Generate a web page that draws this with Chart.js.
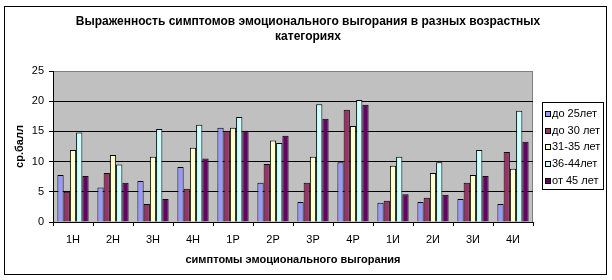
<!DOCTYPE html>
<html lang="ru">
<head>
<meta charset="utf-8">
<title>Выраженность симптомов</title>
<script src="https://cdn.jsdelivr.net/npm/chart.js@4.4.1/dist/chart.umd.min.js"></script>
<style>
    html, body { margin: 0; padding: 0; background: #fff; }
    canvas { display: block; }
</style>
</head>
<body>
<canvas id="graficoBar" width="612" height="280"></canvas>
<script>
// dados do grafico
const categorias = ['1Н', '2Н', '3Н', '4Н', '1Р', '2Р', '3Р', '4Р', '1И', '2И', '3И', '4И'];
const grupos = ['до 25лет', 'до 30 лет', '31-35 лет', '36-44лет', 'от 45 лет'];
const ate25 = [7.8, 5.7, 6.8, 9.1, 15.6, 6.5, 3.3, 9.9, 3.2, 3.3, 3.8, 3.0];
const ate30 = [5.0, 8.1, 3.0, 5.5, 15.1, 9.6, 6.5, 18.6, 3.5, 4.0, 6.5, 11.6];
const de31a35 = [11.9, 11.1, 10.8, 12.3, 15.6, 13.5, 10.8, 15.9, 9.3, 8.1, 7.8, 8.8];
const de36a44 = [14.8, 9.5, 15.4, 16.1, 17.4, 13.1, 19.5, 20.2, 10.8, 9.9, 11.9, 18.4];
const acima45 = [7.6, 6.5, 3.8, 10.5, 15.1, 14.3, 17.1, 19.4, 4.6, 4.5, 7.6, 13.3];
const ticksY = [0, 5, 10, 15, 20, 25];

const cores = ['#9999FF', '#993366', '#FFFFCC', '#CCFFFF', '#660066'];
const series = [ate25, ate30, de31a35, de36a44, acima45];

Chart.defaults.font.family = '"Liberation Sans", Arial, sans-serif';
Chart.defaults.color = '#000';

// fundo cinza da area do grafico + moldura externa
const fundoPlugin = {
    id: 'fundo',
    beforeDraw(chart) {
        const ctx = chart.ctx;
        const a = chart.chartArea;
        ctx.save();
        ctx.fillStyle = '#fff';
        ctx.fillRect(0, 0, chart.width, chart.height);
        ctx.fillStyle = '#C0C0C0';
        ctx.fillRect(a.left, a.top, a.right - a.left, a.bottom - a.top);
        ctx.strokeStyle = '#808080';
        ctx.lineWidth = 1;
        ctx.strokeRect(a.left + 0.5, a.top + 0.5, a.right - a.left - 1, a.bottom - a.top);
        ctx.restore();
    },
    afterDraw(chart) {
        const ctx = chart.ctx;
        ctx.save();
        ctx.strokeStyle = '#000';
        ctx.lineWidth = 1;
        ctx.strokeRect(4.5, 6.5, 602, 268);
        ctx.restore();
    }
};

// legenda com caixa, como no Excel
const legendaPlugin = {
    id: 'legendaCaixa',
    afterDraw(chart) {
        const ctx = chart.ctx;
        const x0 = 542, y0 = 102, w = 61, h = 87;
        ctx.save();
        ctx.fillStyle = '#fff';
        ctx.fillRect(x0, y0, w, h);
        ctx.strokeStyle = '#000';
        ctx.lineWidth = 1;
        ctx.strokeRect(x0 + 0.5, y0 + 0.5, w, h);
        ctx.font = '11px "Liberation Sans", Arial, sans-serif';
        ctx.textBaseline = 'middle';
        chart.data.datasets.forEach((ds, i) => {
            const cy = y0 + 12 + i * 16.7;
            ctx.fillStyle = ds.backgroundColor;
            ctx.fillRect(x0 + 3, Math.round(cy) - 3, 6, 6);
            ctx.strokeStyle = '#000';
            ctx.strokeRect(x0 + 3.5, Math.round(cy) - 2.5, 5, 5);
            ctx.fillStyle = '#000';
            ctx.fillText(ds.label, x0 + 10, cy);
        });
        ctx.restore();
    }
};

const ctx1 = document.getElementById('graficoBar').getContext('2d');
const chart1 = new Chart(ctx1, {
    type: 'bar',
    data: {
        labels: categorias,
        datasets: grupos.map((nome, i) => ({
            label: nome,
            data: series[i],
            backgroundColor: cores[i],
            borderColor: '#000',
            borderWidth: 1,
            borderSkipped: 'bottom',
            categoryPercentage: 0.78,
            barPercentage: 1.0
        }))
    },
    options: {
        responsive: false,
        animation: false,
        devicePixelRatio: 1,
        layout: { padding: { left: 4, right: 0, top: 0, bottom: 6 } },
        plugins: {
            legend: { display: false },
            tooltip: { enabled: false },
            title: {
                display: true,
                text: ['Выраженность симптомов эмоционального выгорания в разных возрастных', 'категориях'],
                font: { size: 12, weight: 'bold', lineHeight: 1.25 },
                color: '#000',
                padding: { top: 14, bottom: 27 }
            }
        },
        scales: {
            x: {
                offset: true,
                grid: {
                    offset: true,
                    drawOnChartArea: false,
                    drawTicks: true,
                    tickLength: 4,
                    tickColor: '#000'
                },
                border: { display: true, color: '#000' },
                ticks: { font: { size: 11 }, padding: 7, maxRotation: 0 },
                title: {
                    display: true,
                    text: 'симптомы эмоционального выгорания',
                    font: { size: 11, weight: 'bold' },
                    padding: { top: 0, bottom: 7 }
                },
                afterFit(scale) { scale.height = 52; }
            },
            y: {
                min: 0,
                max: 25,
                afterBuildTicks(scale) {
                    scale.ticks = ticksY.map(v => ({ value: v }));
                },
                grid: {
                    color: ctx => ctx.tick && ctx.tick.value === 25 ? '#808080' : '#000',
                    tickColor: '#000',
                    tickLength: 4
                },
                border: { display: true, color: '#000' },
                ticks: { font: { size: 11 }, padding: 5 },
                title: {
                    display: true,
                    text: 'ср.балл',
                    font: { size: 11, weight: 'bold' },
                    padding: { top: 9, bottom: 0 }
                },
                afterFit(scale) { scale.width = 49; }
            },
            // espaco reservado para a legenda a direita
            espacoLegenda: {
                type: 'linear',
                position: 'right',
                display: true,
                grid: { display: false, drawTicks: false },
                border: { display: false },
                ticks: { display: false },
                afterFit(scale) { scale.width = 79; }
            }
        }
    },
    plugins: [fundoPlugin, legendaPlugin]
});
</script>
</body>
</html>
